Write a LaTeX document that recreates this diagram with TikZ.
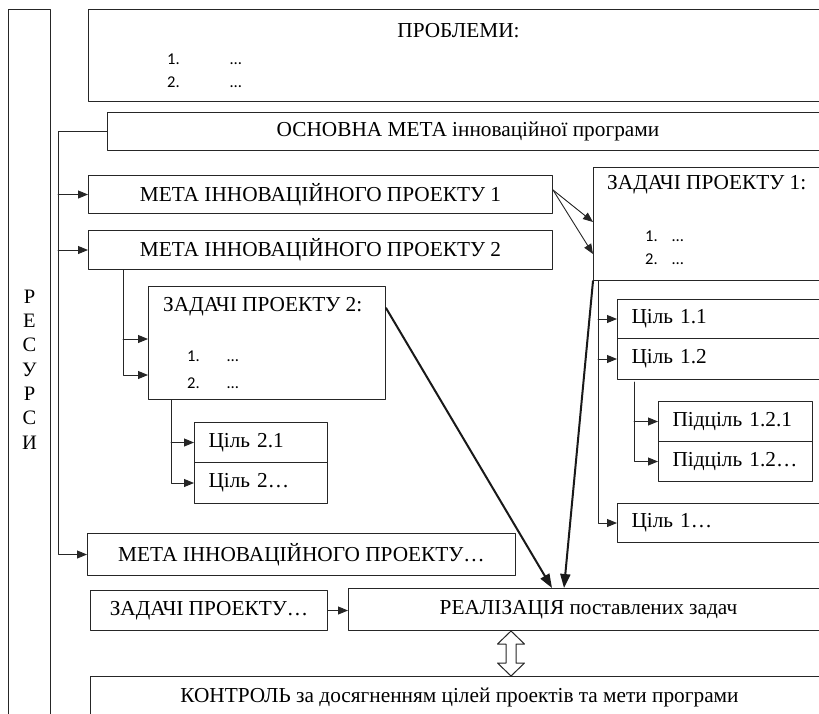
\documentclass[tikz,border=0pt]{standalone}
\usepackage{fontspec}
\setmainfont{Liberation Serif}
\newfontfamily\numfont{Carlito}
\usetikzlibrary{arrows.meta,calc}

\begin{document}
\begin{tikzpicture}[x=1pt,y=-1pt,line cap=round,line join=round,
  >={Triangle[length=10pt,width=8pt]},
  box/.style={draw=black!85,line width=1pt,anchor=north west,inner sep=0pt,font=\fontsize{21.3}{25}\selectfont},
  lbox/.style={box,align=left,inner xsep=14pt,text width=#1},
  txt/.style={inner sep=0pt,font=\fontsize{21.3}{25}\selectfont},
  num/.style={inner sep=0pt,anchor=west,font=\numfont\fontsize{16.5}{19}\selectfont},
  conn/.style={draw=black!85,line width=0.9pt},
  thk/.style={draw=black!90,line width=2pt,-{Triangle[length=14pt,width=10pt]}}]
  \useasboundingbox (0,0) rectangle (819,713);
  \clip (0,0) rectangle (819,713);
  \node[box,minimum width=42,minimum height=720,align=center,font=\fontsize{20.5}{24.3}\selectfont] (res) at (8,9) {Р\\Е\\С\\У\\Р\\С\\И};
  \node[box,minimum width=740,minimum height=92] (prob) at (88,9) {};
  \node[txt] (probt) at ([yshift=-22pt]prob.north) {ПРОБЛЕМИ:};
  \node[num] (prob1) at (167,59) {\makebox[63pt][l]{1.}…};
  \node[num] (prob2) at (167,82) {\makebox[63pt][l]{2.}…};
  \node[box,minimum width=721,minimum height=38] (osn) at (107,112) {ОСНОВНА МЕТА інноваційної програми};
  \node[box,minimum width=464,minimum height=38] (m1) at (88,175) {МЕТА ІННОВАЦІЙНОГО ПРОЕКТУ 1};
  \node[box,minimum width=464,minimum height=39] (m2) at (88,230) {МЕТА ІННОВАЦІЙНОГО ПРОЕКТУ 2};
  \node[box,minimum width=235,minimum height=113] (z1) at (593,167) {};
  \node[txt,anchor=west] (z1t) at (607,185) {ЗАДАЧІ ПРОЕКТУ 1:};
  \node[num] (z11) at (645,236) {\makebox[27pt][l]{1.}…};
  \node[num] (z12) at (645,259) {\makebox[27pt][l]{2.}…};
  \node[box,minimum width=237,minimum height=113] (z2) at (148,286) {};
  \node[txt,anchor=west] (z2t) at (163,307) {ЗАДАЧІ ПРОЕКТУ 2:};
  \node[num] (z21) at (187,356) {\makebox[40pt][l]{1.}…};
  \node[num] (z22) at (187,383) {\makebox[40pt][l]{2.}…};
  \node[lbox=183,minimum height=39] (c11) at (617,299) {Ціль 1.1};
  \node[lbox=183,minimum height=41] (c12) at (617,338) {Ціль 1.2};
  \node[lbox=126,minimum height=40] (p121) at (658,401) {Підціль 1.2.1};
  \node[lbox=126,minimum height=40] (p12x) at (658,441) {Підціль 1.2…};
  \node[lbox=183,minimum height=39] (c1x) at (617,503) {Ціль 1…};
  \node[lbox=105,minimum height=40] (c21) at (194,422) {Ціль 2.1};
  \node[lbox=105,minimum height=41] (c22) at (194,462) {Ціль 2…};
  \node[box,minimum width=428,minimum height=42] (m3) at (87,533) {МЕТА ІННОВАЦІЙНОГО ПРОЕКТУ…};
  \node[box,minimum width=237,minimum height=40] (z3) at (90,590) {ЗАДАЧІ ПРОЕКТУ…};
  \node[box,minimum width=480,minimum height=42] (real) at (348,588) {РЕАЛІЗАЦІЯ поставлених задач};
  \node[box,minimum width=738,minimum height=42] (kontr) at (90,676) {КОНТРОЛЬ за досягненням цілей проектів та мети програми};
  \coordinate (busL) at (58,0);
  \coordinate (b2) at (123,0);
  \coordinate (b3) at (171,0);
  \coordinate (b4) at (598,0);
  \coordinate (b5) at (634,382);
  \coordinate (m1o) at ([yshift=-15pt]m1.north east);
  \coordinate (z1a) at ([yshift=-55pt]z1.north west);
  \coordinate (z1b) at ([yshift=-87pt]z1.north west);
  \coordinate (z2a) at ([yshift=-53pt]z2.north west);
  \coordinate (z2b) at ([yshift=-89pt]z2.north west);
  \coordinate (z2o) at ([yshift=-22pt]z2.north east);
  \coordinate (rA) at ([xshift=204pt]real.north west);
  \coordinate (rB) at ([xshift=216pt]real.north west);
  \coordinate (dt) at ([xshift=163pt]real.south west);
  \coordinate (db) at (dt |- kontr.north);
  \draw[conn,->] (osn.west) -- (osn.west -| busL) |- (m3.west);
  \draw[conn,->] (m1.west -| busL) -- (m1.west);
  \draw[conn,->] (m2.west -| busL) -- (m2.west);
  \draw[conn,->] (m1o) -- (z1a);
  \draw[conn,->] (m1o) -- (z1b);
  \draw[conn,->] (b2 |- m2.south) |- (z2b);
  \draw[conn,->] (b2 |- z2a) -- (z2a);
  \draw[conn,->] (b3 |- z2.south) |- (c22.west);
  \draw[conn,->] (b3 |- c21.west) -- (c21.west);
  \draw[conn,->] (b4 |- z1.south) |- (c1x.west);
  \draw[conn,->] (b4 |- c11.west) -- (c11.west);
  \draw[conn,->] (b4 |- c12.west) -- (c12.west);
  \draw[conn,->] (b5) |- (p12x.west);
  \draw[conn,->] (b5 |- p121.west) -- (p121.west);
  \draw[thk] (z2o) -- (rA);
  \draw[thk] (z1.south west) -- (rB);
  \draw[conn,->] (z3.east) -- (z3.east -| real.west);
  \draw[line width=1pt,draw=black!85,fill=white] (dt) -- ($(dt)+(13.5,13)$) -- ($(dt)+(5,13)$) -- ($(db)+(5,-13)$) -- ($(db)+(13.5,-13)$) -- (db) -- ($(db)+(-13.5,-13)$) -- ($(db)+(-5,-13)$) -- ($(dt)+(-5,13)$) -- ($(dt)+(-13.5,13)$) -- cycle;
\end{tikzpicture}
\end{document}
